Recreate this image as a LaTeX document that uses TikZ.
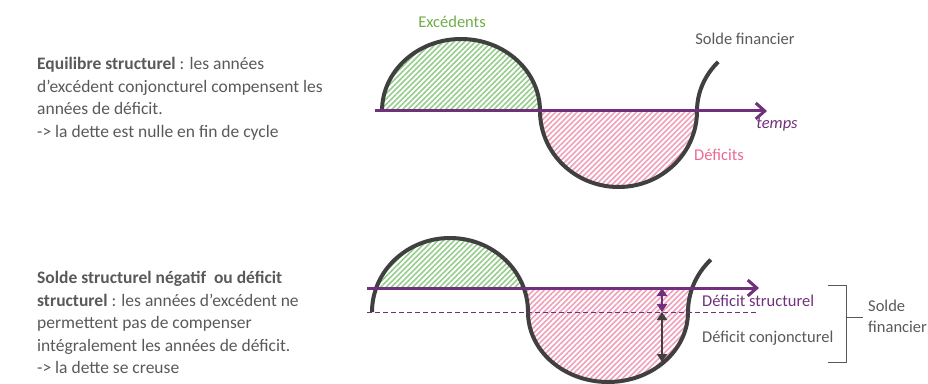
\documentclass[tikz,border=0pt]{standalone}
\usepackage{fontspec}
\setmainfont{Carlito}
\usetikzlibrary{patterns.meta,arrows.meta}
\definecolor{txt}{RGB}{89,89,89}
\definecolor{curvec}{RGB}{64,64,64}
\definecolor{axisc}{RGB}{112,48,124}
\definecolor{grn}{RGB}{112,173,71}
\definecolor{grnhatch}{RGB}{150,205,140}
\definecolor{pnk}{RGB}{235,105,145}
\definecolor{pnkhatch}{RGB}{240,160,185}
\begin{document}
\begin{tikzpicture}[x=1pt,y=1pt,
  font=\fontsize{16.5}{22}\selectfont, text=txt,
  curvestyle/.style={draw=curvec,line width=4pt},
  axisstyle/.style={draw=axisc,line width=3pt,-{Straight Barb[length=9pt,width=16pt,line width=3pt]}},
  hatchG/.style={pattern={Lines[angle=45,distance=3.8pt,line width=1.6pt]},pattern color=grnhatch},
  hatchP/.style={pattern={Lines[angle=45,distance=3.8pt,line width=1.6pt]},pattern color=pnkhatch},
  dblarrow/.style={line width=2pt,{Triangle[length=8pt,width=10pt]}-{Triangle[length=8pt,width=10pt]}},
  lbl/.style={inner sep=0pt},
  sidetext/.style={lbl,anchor=west,align=left,font=\fontsize{17.5}{22.5}\selectfont}
]
\useasboundingbox (0,0) rectangle (928,383);

% ---------- left texts ----------
\node[sidetext] (t1) at (37,284) {\textbf{Equilibre structurel} : les années\\d’excédent conjoncturel compensent les\\années de déficit.\\-> la dette est nulle en fin de cycle};
\node[sidetext] (t2) at (37,60.5) {\textbf{Solde structurel négatif\ \ ou déficit}\\\textbf{structurel} : les années d’excédent ne\\permettent pas de compenser\\intégralement les années de déficit.\\-> la dette se creuse};

% ---------- top diagram ----------
\coordinate (a1) at (375,272);
\coordinate (a2) at (767,272);
\fill[hatchG] (382,272) arc[start angle=180,end angle=0,x radius=79,y radius=72] -- cycle;
\fill[hatchP] (540,272) arc[start angle=180,end angle=360,x radius=78.5,y radius=76] -- cycle;
\draw[curvestyle] (382,272) arc[start angle=180,end angle=0,x radius=79,y radius=72]
   arc[start angle=180,end angle=360,x radius=78.5,y radius=76]
   arc[start angle=180,end angle=137,x radius=79,y radius=72];
\draw[axisstyle] (a1) -- (a2);
\node[lbl,text=grn] (exc) at (452,361) {Excédents};
\node[lbl] (sf1) at (745,344) {Solde financier};
\node[lbl,text=axisc] (tmp) at (777,258) {\itshape temps};
\node[lbl,text=pnk] (def) at (719,228) {Déficits};

% ---------- bottom diagram ----------
\coordinate (b1) at (367,95);
\coordinate (b2) at (759,95);
\coordinate (d1) at (367,71);
\coordinate (d2) at (758,71);
\begin{scope}
  \clip (360,95) rectangle (560,170);
  \fill[hatchG] (372,71) arc[start angle=180,end angle=0,x radius=78,y radius=74] -- cycle;
\end{scope}
\fill[hatchP] (523.8,95) arc[start angle=18.9,end angle=0,x radius=78,y radius=74]
   arc[start angle=180,end angle=360,x radius=80,y radius=70]
   arc[start angle=180,end angle=161.1,x radius=78,y radius=74] -- cycle;
\draw[curvestyle] (372,71) arc[start angle=180,end angle=0,x radius=78,y radius=74]
   arc[start angle=180,end angle=360,x radius=80,y radius=70]
   arc[start angle=180,end angle=135,x radius=78,y radius=74];
\draw[axisc,line width=1pt,dash pattern=on 5pt off 3pt] (d1) -- (d2);
\draw[axisstyle] (b1) -- (b2);
\coordinate (p1) at (662,95);
\coordinate (p2) at (662,71);
\coordinate (p3) at (662,21);
\draw[dblarrow,axisc] (p1) -- (p2);
\draw[dblarrow,curvec] (p2) -- (p3);
\node[lbl,anchor=west,text=axisc] (ds) at (702,82) {Déficit structurel};
\node[lbl,anchor=west] (dc) at (702,45) {Déficit conjoncturel};
\coordinate (k1) at (828,98);
\coordinate (k2) at (846,98);
\coordinate (k3) at (846,21);
\coordinate (k4) at (828,21);
\coordinate (k5) at (846,66);
\coordinate (k6) at (863,66);
\draw[txt,line width=1pt] (k1) -- (k2) -- (k3) -- (k4);
\draw[txt,line width=1pt] (k5) -- (k6);
\node[lbl,anchor=west,align=left,font=\fontsize{16.5}{21}\selectfont] (sf2) at (868,67) {Solde\\financier};
\end{tikzpicture}
\end{document}
